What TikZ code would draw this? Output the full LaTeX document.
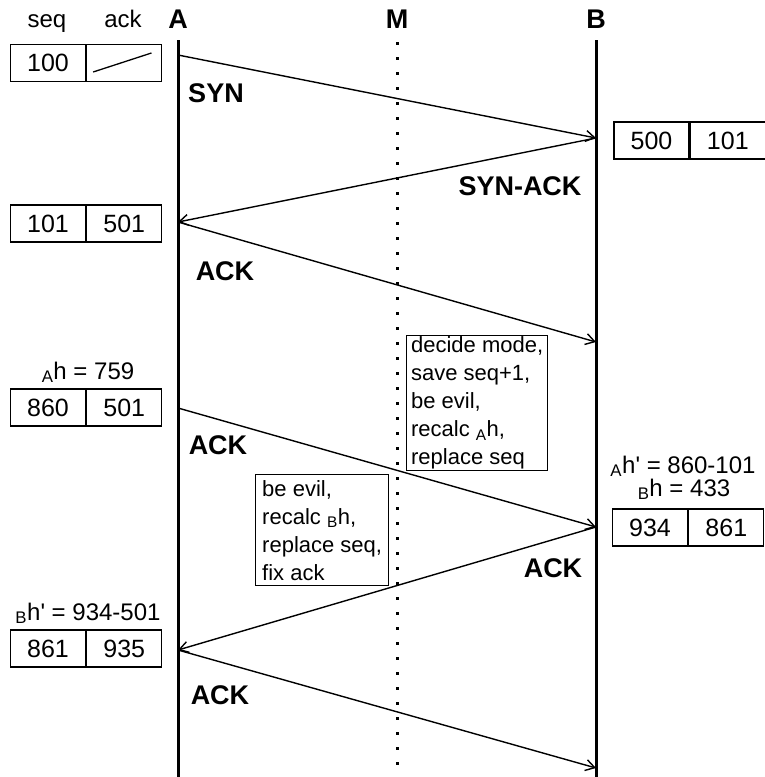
\documentclass[tikz,border=0pt]{standalone}
\usepackage{fontspec}
\setmainfont{Liberation Sans}
\usetikzlibrary{arrows.meta,positioning}
\begin{document}
\begin{tikzpicture}[x=1pt,y=1pt,
  lifeline/.style={line width=3pt},
  msg/.style={line width=1.4pt,-{Straight Barb[length=9pt,width=11pt,line width=1.4pt]}},
  cell/.style={draw,line width=1.3pt,minimum width=75pt,minimum height=37pt,inner sep=0pt,font=\fontsize{25}{28}\selectfont},
  head/.style={anchor=base,font=\bfseries\fontsize{27}{30}\selectfont},
  lbl/.style={anchor=base,font=\bfseries\fontsize{27}{30}\selectfont},
  plain/.style={anchor=base,inner sep=0pt,font=\fontsize{24}{28}\selectfont},
  note/.style={draw,line width=1.3pt,align=left,inner xsep=2pt,inner ysep=1pt,font=\fontsize{22}{28}\selectfont}]
\useasboundingbox (0,0) rectangle (765,-777);
% headers
\node[plain] (hseq) at (47,-27) {seq};
\node[plain] (hack) at (123,-27) {ack};
\node[head] (hA) at (178,-28) {A};
\node[head] (hM) at (397,-28) {M};
\node[head] (hB) at (596,-28) {B};
% lifelines
\coordinate (At) at (178,-40); \coordinate (Ab) at (178,-777);
\coordinate (Mt) at (397,-42); \coordinate (Mb) at (397,-777);
\coordinate (Bt) at (596,-40); \coordinate (Bb) at (596,-777);
\draw[lifeline] (At) -- (Ab);
\draw[lifeline] (Bt) -- (Bb);
\draw[line width=3pt,dash pattern=on 3pt off 12pt] (Mt) -- (Mb);
% message points
\coordinate (a1) at (178,-55);
\coordinate (b1) at (596,-138);
\coordinate (a2) at (178,-222);
\coordinate (b2) at (596,-342);
\coordinate (a3) at (178,-408);
\coordinate (b3) at (596,-527);
\coordinate (a4) at (178,-650);
\coordinate (b4) at (596,-768);
\draw[msg] (a1) -- (b1);
\draw[msg] (b1) -- (a2);
\draw[msg] (a2) -- (b2);
\draw[msg] (a3) -- (b3);
\draw[msg] (b3) -- (a4);
\draw[msg] (a4) -- (b4);
% message labels
\node[lbl] (l1) at (216,-102) {SYN};
\node[lbl] (l2) at (520,-195) {SYN-ACK};
\node[lbl] (l3) at (225,-280) {ACK};
\node[lbl] (l4) at (218,-454) {ACK};
\node[lbl] (l5) at (553,-577) {ACK};
\node[lbl] (l6) at (220,-704) {ACK};
% boxes
\node[cell] (s1) at (48,-63) {100};
\node[cell,right=0pt of s1] (k1) {};
\draw[line width=1.3pt] ([shift={(7,-9)}]k1.west) -- ([shift={(-11,10)}]k1.east);
\node[cell] (s2) at (651.5,-140.5) {500};
\node[cell,right=0pt of s2] (k2) {101};
\node[cell] (s3) at (48,-223.5) {101};
\node[cell,right=0pt of s3] (k3) {501};
\node[plain] (t3) at (88,-379) {\textsubscript{A}h = 759};
\node[cell] (s4) at (48,-407.5) {860};
\node[cell,right=0pt of s4] (k4) {501};
\node[plain] (t5a) at (683,-473) {\textsubscript{A}h\textquotesingle{} = 860-101};
\node[plain] (t5b) at (684,-496) {\textsubscript{B}h = 433};
\node[cell] (s5) at (650,-527.5) {934};
\node[cell,right=0pt of s5] (k5) {861};
\node[plain] (t6) at (88,-620) {\textsubscript{B}h\textquotesingle{} = 934-501};
\node[cell] (s6) at (48,-648.5) {861};
\node[cell,right=0pt of s6] (k6) {935};
% notes
\node[note,anchor=north west,minimum width=141pt,minimum height=135pt] (n1) at (406,-335) {decide mode,\\save seq+1,\\be evil,\\recalc \textsubscript{A}h,\\replace seq};
\node[note,anchor=north west,minimum width=133pt,minimum height=111pt] (n2) at (255,-474) {be evil,\\recalc \textsubscript{B}h,\\replace seq,\\fix ack};
\end{tikzpicture}
\end{document}
